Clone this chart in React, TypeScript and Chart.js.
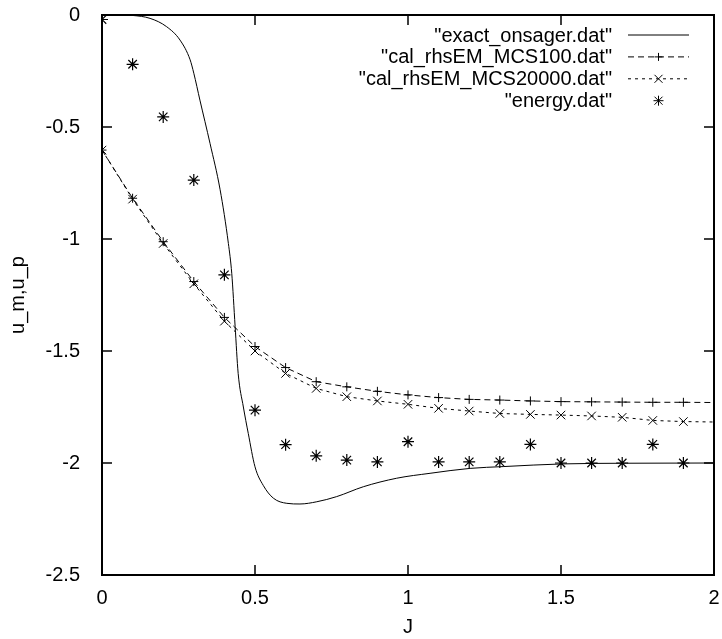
import React, { useEffect, useRef } from "react";
import { Chart, registerables } from "chart.js";

Chart.register(...registerables);

// ---------- data ----------
const seriesNames = [
  '"exact_onsager.dat"',
  '"cal_rhsEM_MCS100.dat"',
  '"cal_rhsEM_MCS20000.dat"',
  '"energy.dat"',
];

const onsagerJ = [
  0, 0.05, 0.1, 0.157, 0.211, 0.255, 0.288, 0.3, 0.32, 0.353, 0.386, 0.413,
  0.424, 0.435, 0.445, 0.462, 0.478, 0.5, 0.527, 0.56, 0.604, 0.647, 0.702,
  0.767, 0.854, 0.963, 1.072, 1.203, 1.311, 1.507, 1.715, 2.0,
];
const onsagerU = [
  0, 0, -0.002, -0.015, -0.052, -0.112, -0.2, -0.26, -0.38, -0.573, -0.78,
  -1.02, -1.153, -1.39, -1.6, -1.75, -1.868, -2.017, -2.1, -2.157, -2.18,
  -2.183, -2.173, -2.15, -2.106, -2.068, -2.046, -2.024, -2.016, -2.004,
  -2.001, -2.0,
];

const mcsJ = [
  0, 0.1, 0.2, 0.3, 0.4, 0.5, 0.6, 0.7, 0.8, 0.9, 1.0, 1.1, 1.2, 1.3, 1.4, 1.5,
  1.6, 1.7, 1.8, 1.9, 2.0,
];
const mcs100 = [
  -0.603, -0.818, -1.012, -1.19, -1.35, -1.48, -1.574, -1.637, -1.66, -1.68,
  -1.696, -1.708, -1.716, -1.719, -1.723, -1.726, -1.727, -1.728, -1.729,
  -1.729, -1.73,
];
const mcs20000 = [
  -0.603, -0.822, -1.02, -1.2, -1.367, -1.5, -1.6, -1.667, -1.704, -1.723,
  -1.738, -1.756, -1.768, -1.779, -1.783, -1.786, -1.79, -1.796, -1.81,
  -1.815, -1.817,
];

const energyJ = [
  0, 0.1, 0.2, 0.3, 0.4, 0.5, 0.6, 0.7, 0.8, 0.9, 1.0, 1.1, 1.2, 1.3, 1.4, 1.5,
  1.6, 1.7, 1.8, 1.9,
];
const energyU = [
  -0.02, -0.22, -0.455, -0.737, -1.16, -1.764, -1.918, -1.968, -1.987, -1.995,
  -1.905, -1.995, -1.995, -1.995, -1.917, -2.0, -2.0, -2.0, -1.917, -2.0,
];

const xTicks = [0, 0.5, 1, 1.5, 2];
const yTicks = [0, -0.5, -1, -1.5, -2, -2.5];
const xTitle = "J";
const yTitle = "u_m,u_p";

// ---------- styling ----------
const FONT = "'Liberation Sans', Arial, sans-serif";
const FONT_SIZE = 20;
const INK = "#000";

const toPts = (xs: number[], ys: number[]) => xs.map((x, i) => ({ x, y: ys[i] }));

const frameAndLegend = {
  id: "frameAndLegend",
  afterDatasetsDraw(chart: any) {
    const { ctx, chartArea: a, scales } = chart;
    const xs = scales.x;
    const ys = scales.y;
    ctx.save();
    ctx.strokeStyle = INK;
    ctx.setLineDash([]);
    // inward ticks, mirrored
    ctx.lineWidth = 1.5;
    const tl = 10;
    ctx.beginPath();
    xTicks.forEach((v) => {
      const px = Math.round(xs.getPixelForValue(v));
      ctx.moveTo(px, a.bottom);
      ctx.lineTo(px, a.bottom - tl);
      ctx.moveTo(px, a.top);
      ctx.lineTo(px, a.top + tl);
    });
    yTicks.forEach((v) => {
      const py = Math.round(ys.getPixelForValue(v));
      ctx.moveTo(a.left, py);
      ctx.lineTo(a.left + tl, py);
      ctx.moveTo(a.right, py);
      ctx.lineTo(a.right - tl, py);
    });
    ctx.stroke();
    // border
    ctx.lineWidth = 2;
    ctx.strokeRect(a.left, a.top, a.right - a.left, a.bottom - a.top);

    // legend (gnuplot style: text right-aligned, sample to the right)
    ctx.font = `${FONT_SIZE}px ${FONT}`;
    ctx.fillStyle = INK;
    ctx.textAlign = "right";
    ctx.textBaseline = "middle";
    const textRight = 612;
    const x0 = 628;
    const x1 = 689;
    const xm = (x0 + x1) / 2;
    const rowY = (i: number) => 35 + i * 21.9;
    const dashes = [[], [6, 4], [3, 4], null];
    seriesNames.forEach((name, i) => {
      const y = rowY(i);
      ctx.fillText(name, textRight, y + 1);
      ctx.lineWidth = 1;
      const d = dashes[i];
      if (d) {
        ctx.setLineDash(d);
        ctx.beginPath();
        ctx.moveTo(x0, y);
        ctx.lineTo(x1, y);
        ctx.stroke();
        ctx.setLineDash([]);
      }
      ctx.beginPath();
      if (i === 1 || i === 3) {
        const r = i === 1 ? 4 : 5;
        ctx.moveTo(xm - r, y);
        ctx.lineTo(xm + r, y);
        ctx.moveTo(xm, y - r);
        ctx.lineTo(xm, y + r);
      }
      if (i === 2 || i === 3) {
        const r = 4;
        ctx.moveTo(xm - r, y - r);
        ctx.lineTo(xm + r, y + r);
        ctx.moveTo(xm - r, y + r);
        ctx.lineTo(xm + r, y - r);
      }
      ctx.stroke();
    });
    ctx.restore();
  },
};

export default function App() {
  const ref = useRef<HTMLCanvasElement | null>(null);

  useEffect(() => {
    if (!ref.current) return;
    const noEdge = (r: number) => (c: any) =>
      c.raw && c.raw.x >= 2 ? 0 : r;
    const chart = new Chart(ref.current, {
      type: "scatter",
      data: {
        datasets: [
          {
            label: seriesNames[0],
            data: toPts(onsagerJ, onsagerU),
            showLine: true,
            borderColor: INK,
            borderWidth: 1,
            pointRadius: 0,
            cubicInterpolationMode: "monotone",
            clip: 0,
            order: 4,
          },
          {
            label: seriesNames[1],
            data: toPts(mcsJ, mcs100),
            showLine: true,
            borderColor: INK,
            borderWidth: 1,
            borderDash: [6, 4],
            pointStyle: "cross",
            pointRadius: noEdge(4.5),
            pointBorderColor: INK,
            pointBorderWidth: 1,
            pointBackgroundColor: "transparent",
            clip: 0,
            order: 3,
          },
          {
            label: seriesNames[2],
            data: toPts(mcsJ, mcs20000),
            showLine: true,
            borderColor: INK,
            borderWidth: 1,
            borderDash: [3, 4],
            pointStyle: "crossRot",
            pointRadius: noEdge(6),
            pointBorderColor: INK,
            pointBorderWidth: 1,
            pointBackgroundColor: "transparent",
            clip: 0,
            order: 2,
          },
          {
            label: seriesNames[3],
            data: toPts(energyJ, energyU),
            showLine: false,
            pointStyle: "star",
            pointRadius: 6,
            pointBorderColor: INK,
            pointBorderWidth: 1.2,
            pointBackgroundColor: "transparent",
            clip: 0,
            order: 1,
          },
        ] as any,
      },
      options: {
        animation: false,
        responsive: false,
        maintainAspectRatio: false,
        events: [],
        layout: { padding: { top: 15, right: 8, left: 0, bottom: 0 } },
        plugins: {
          legend: { display: false },
          tooltip: { enabled: false },
          title: { display: false },
        },
        scales: {
          x: {
            type: "linear",
            position: "bottom",
            min: 0,
            max: 2,
            grid: { display: false },
            border: { display: false },
            afterBuildTicks: (s: any) => {
              s.ticks = xTicks.map((v) => ({ value: v }));
            },
            afterFit: (s: any) => {
              s.height = 64;
              s.paddingLeft = 0;
              s.paddingRight = 0;
            },
            ticks: {
              color: INK,
              padding: 3,
              maxRotation: 0,
              font: { family: FONT, size: FONT_SIZE },
              callback: (v: any) => String(v),
            },
            title: {
              display: true,
              text: xTitle,
              color: INK,
              font: { family: FONT, size: FONT_SIZE },
              padding: { top: 0, bottom: 0 },
            },
          },
          y: {
            type: "linear",
            min: -2.5,
            max: 0,
            grid: { display: false },
            border: { display: false },
            afterBuildTicks: (s: any) => {
              s.ticks = yTicks.map((v) => ({ value: v }));
            },
            afterFit: (s: any) => {
              s.width = 102;
              s.paddingTop = 0;
              s.paddingBottom = 0;
            },
            ticks: {
              color: INK,
              padding: 14,
              font: { family: FONT, size: FONT_SIZE },
              callback: (v: any) => String(v),
            },
            title: {
              display: true,
              text: yTitle,
              color: INK,
              font: { family: FONT, size: FONT_SIZE },
              padding: { top: 6, bottom: 0 },
            },
          },
        },
      } as any,
      plugins: [frameAndLegend],
    });
    return () => chart.destroy();
  }, []);

  return (
    <div
      style={{
        position: "fixed",
        left: 0,
        top: 0,
        width: 722,
        height: 639,
        background: "#fff",
      }}
    >
      <canvas ref={ref} width={722} height={639} style={{ display: "block" }} />
    </div>
  );
}
